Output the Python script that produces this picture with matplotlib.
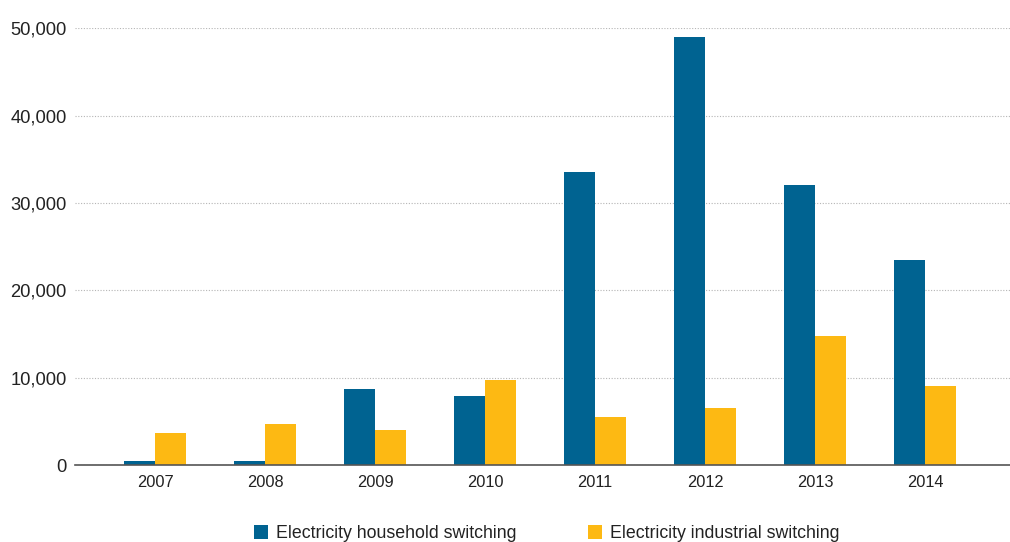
import numpy as np
import matplotlib.pyplot as plt
from matplotlib.ticker import FuncFormatter

plt.rcParams['font.family'] = ['Liberation Sans', 'DejaVu Sans']

years = ['2007', '2008', '2009', '2010', '2011', '2012', '2013', '2014']
household = [450, 450, 8700, 7900, 33500, 48950, 32050, 23450]
industrial = [3650, 4700, 4000, 9750, 5500, 6500, 14750, 9050]

blue = '#006391'
yellow = '#FDB913'

fig = plt.figure(figsize=(10.1, 5.42), dpi=100)
ax = fig.add_axes([0.074, 0.142, 0.926, 0.806])

x = np.arange(len(years))
w = 0.28
ax.bar(x - w / 2, household, w, color=blue, label='Electricity household switching')
ax.bar(x + w / 2, industrial, w, color=yellow, label='Electricity industrial switching')

ax.set_xlim(-0.73, 7.77)
ax.set_ylim(0, 50000)
ax.set_yticks(range(0, 50001, 10000))
ax.yaxis.set_major_formatter(FuncFormatter(lambda v, p: f'{int(v):,}'))
ax.set_xticks(x)
ax.set_xticklabels(years)

ax.grid(axis='y', color='#b5b5b5', linestyle=(0, (1, 1.5)), linewidth=0.8)
ax.set_axisbelow(True)
for s in ['left', 'right', 'top']:
    ax.spines[s].set_visible(False)
ax.spines['bottom'].set_color('#555555')
ax.spines['bottom'].set_linewidth(1.2)

ax.tick_params(axis='y', length=0, pad=6, labelsize=13.2, colors='#222222')
ax.tick_params(axis='x', length=0, pad=7, labelsize=11.8, colors='#222222')

leg = fig.legend(loc='lower center', bbox_to_anchor=(0.5415, -0.03), ncol=2,
                 frameon=False, fontsize=12.8, handlelength=0.8, handleheight=0.8,
                 handletextpad=0.45, columnspacing=4.0)
for t in leg.get_texts():
    t.set_color('#222222')

fig.savefig('out.png', dpi=100)
